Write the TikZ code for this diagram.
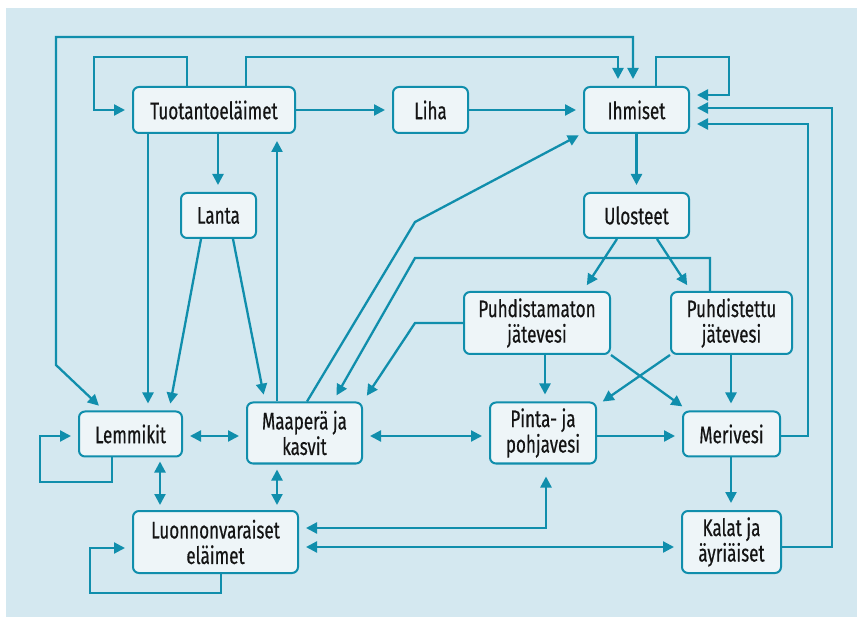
\documentclass[tikz,border=0pt]{standalone}
\usepackage{fontspec}
\setmainfont{Fira Sans}[FakeStretch=0.71, FakeBold=0.5]
\usetikzlibrary{arrows.meta}
\definecolor{bg}{HTML}{D4E8F0}
\definecolor{ln}{HTML}{108EAC}
\definecolor{bx}{HTML}{EEF5F8}
\definecolor{tx}{HTML}{141414}
\tikzset{
  box/.style={draw=ln, fill=bx, line width=2pt, rounded corners=6pt, align=center,
    inner sep=0pt, text=tx, font=\fontsize{24}{25.5}\selectfont},
  arr/.style={draw=ln, line width=2.3pt, -{Triangle[length=11pt,width=11pt]}, shorten >=7pt},
  darr/.style={arr, {Triangle[length=11pt,width=11pt]}-{Triangle[length=11pt,width=11pt]}, shorten <=7pt}
}
\begin{document}
\begin{tikzpicture}[x=1pt,y=-1pt]
\useasboundingbox (0,0) rectangle (857,617);
\fill[bg] (6,8) rectangle (857,617);
% nodes
\node[box, minimum width=162pt, minimum height=46pt] (tuo) at (214,110) {Tuotantoeläimet};
\node[box, minimum width=75pt, minimum height=46pt] (liha) at (430.5,110) {Liha};
\node[box, minimum width=105pt, minimum height=46pt] (ihm) at (636.5,110) {Ihmiset};
\node[box, minimum width=75pt, minimum height=45pt] (lan) at (218.5,215.5) {Lanta};
\node[box, minimum width=105pt, minimum height=45pt] (ulo) at (636.5,215.5) {Ulosteet};
\node[box, minimum width=146pt, minimum height=62pt] (pdm) at (537,323) {Puhdistamaton\\jätevesi};
\node[box, minimum width=121pt, minimum height=62pt] (pto) at (731.5,323) {Puhdistettu\\jätevesi};
\node[box, minimum width=103pt, minimum height=45pt] (lem) at (130.5,434) {Lemmikit};
\node[box, minimum width=115pt, minimum height=61pt] (maa) at (304.5,433) {Maaperä ja\\kasvit};
\node[box, minimum width=106pt, minimum height=61pt] (pin) at (543,433) {Pinta- ja\\pohjavesi};
\node[box, minimum width=97pt, minimum height=45pt] (mer) at (731.5,434) {Merivesi};
\node[box, minimum width=165pt, minimum height=62pt] (luo) at (215.5,542) {Luonnonvaraiset\\eläimet};
\node[box, minimum width=99pt, minimum height=62pt] (kal) at (731.5,542) {Kalat ja\\äyriäiset};
% top connectors
\draw[darr] (lem.north -| 104,0) -- (56,365) -- (56,37) -- (633,37) -- (ihm.north -| 633,0);
\draw[arr] (tuo.north -| 246,0) -- (246,57) -- (618,57) -- (ihm.north -| 618,0);
\draw[arr] (tuo.north -| 187,0) -- (187,57) -- (94,57) -- (94,110) -- (tuo.west);
\draw[arr] (tuo.east) -- (liha.west);
\draw[arr] (liha.east) -- (ihm.west);
\draw[arr] (tuo.south -| 218,0) -- (lan.north -| 218,0);
\draw[arr] (tuo.south -| 148,0) -- (lem.north -| 148,0);
\draw[arr] (lan.south -| 201,0) -- (lem.north -| 169,0);
\draw[arr] (lan.south -| 233,0) -- (maa.north -| 265,0);
\draw[arr] (maa.north -| 277,0) -- (tuo.south -| 277,0);
\draw[arr] (maa.north -| 307,0) -- (415,222) -- ([xshift=2pt,yshift=2pt]ihm.south west);
\draw[arr] (pto.north -| 710,0) -- (710,258) -- (415,258) -- (maa.north -| 333,0);
\draw[arr] (pdm.west) -- (415,323) -- (maa.north east);
\draw[arr] (ihm.south) -- (ulo.north);
\draw[arr] (ulo.south -| 617,0) -- (pdm.north -| 583,0);
\draw[arr] (ulo.south -| 657,0) -- (pto.north -| 691,0);
\draw[arr] (pdm.south -| 545,0) -- (pin.north -| 545,0);
\draw[arr] (pdm.south east) -- ([xshift=6pt]mer.north west);
\draw[arr] (pto.south west) -- ([yshift=-4pt]pin.north east);
\draw[arr] (pto.south -| 731,0) -- (mer.north -| 731,0);
\draw[arr] (mer.east |- 0,436) -- (808,436) -- (808,124) -- (ihm.east |- 0,124);
\draw[arr] (kal.east |- 0,547) -- (832,547) -- (832,108) -- (ihm.east |- 0,108);
\draw[arr] (ihm.north -| 656,0) -- (656,57) -- (729,57) -- (729,95) -- (ihm.east |- 0,95);
% lower connectors
\draw[arr] (lem.south -| 112,0) -- (112,482) -- (40,482) -- (40,436) -- (lem.west |- 0,436);
\draw[darr] (lem.east |- 0,436) -- (maa.west |- 0,436);
\draw[darr, shorten <=4pt, shorten >=5pt] (lem.south -| 160,0) -- (luo.north -| 160,0);
\draw[darr, shorten <=5pt, shorten >=5pt] (maa.south -| 277,0) -- (luo.north -| 277,0);
\draw[arr] (luo.south -| 221,0) -- (221,593) -- (90,593) -- (90,548) -- (luo.west |- 0,548);
\draw[darr] (maa.east |- 0,436) -- (pin.west |- 0,436);
\draw[arr] (pin.east |- 0,436) -- (mer.west |- 0,436);
\draw[darr, shorten <=12pt] (pin.south -| 546,0) -- (546,528) -- (luo.east |- 0,528);
\draw[darr] (luo.east |- 0,547) -- (kal.west |- 0,547);
\draw[arr] (mer.south -| 731,0) -- (kal.north -| 731,0);
\end{tikzpicture}
\end{document}
